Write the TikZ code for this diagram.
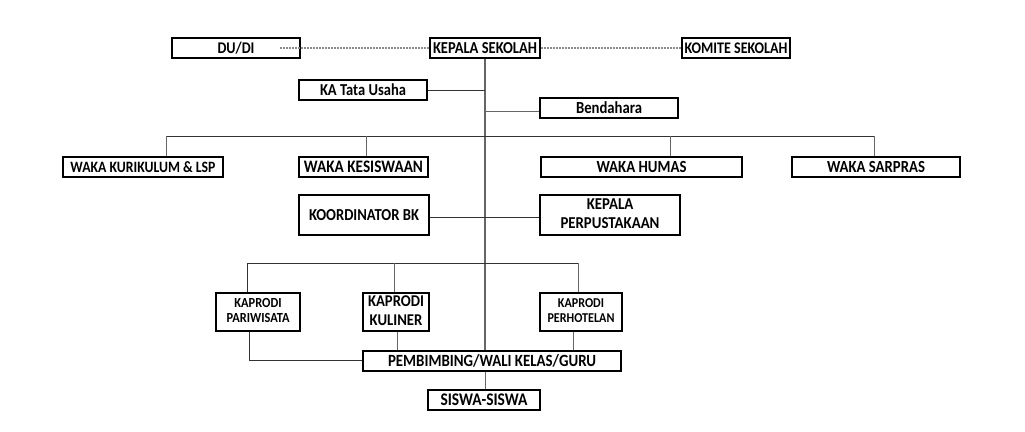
\documentclass[tikz,border=0pt]{standalone}
\usepackage{fontspec}
\setmainfont{Carlito}
\usepackage{graphicx}
\newcommand{\tw}[2]{\scalebox{1}[1.15]{\resizebox{#1pt}{!}{\bfseries #2}}}
\newcommand{\twl}[3]{\scalebox{1}[1.12]{\resizebox{#1pt}{!}{\bfseries\begin{tabular}{@{}c@{}}#2\\[-1pt]#3\end{tabular}}}}
\begin{document}
\begin{tikzpicture}[x=1pt,y=-1pt,
  box/.style={draw=black,line width=1.9pt,fill=white,inner sep=0pt,minimum height=20pt,align=center},
  conn/.style={line width=0.9pt,draw=black!80},
  gconn/.style={line width=1pt,draw=black!60},
  dot/.style={line width=1.1pt,draw=black!45,dash pattern=on 2pt off 1pt}]
\useasboundingbox[fill=white] (0,0) rectangle (1025,431);
% boxes
\node[box,minimum width=128pt] (dudi) at (236,48) {\tw{37}{DU/DI}};
\node[box,minimum width=110pt] (kepsek) at (485,48) {\tw{104}{KEPALA SEKOLAH}};
\node[box,minimum width=108pt] (komite) at (736,48) {\tw{103}{KOMITE SEKOLAH}};
\coordinate (dstart) at (280,48);
\draw[dot] (dstart) -- (kepsek.west);
\draw[dot] (kepsek.east) -- (komite.west);
% trunk
\coordinate (tr1) at (485,90);
\coordinate (tr2) at (485,111);
\coordinate (tr4) at (485,217);
\node[box,minimum width=128pt] (tu) at (363,90) {\tw{86}{KA Tata Usaha}};
\node[box,minimum width=138pt] (bend) at (609,108) {\tw{66}{Bendahara}};
\node[box,minimum width=160pt] (wk1) at (143,167) {\tw{145}{WAKA KURIKULUM \& LSP}};
\node[box,minimum width=129pt] (wk2) at (363.5,167) {\tw{119}{WAKA KESISWAAN}};
\node[box,minimum width=201pt] (wk3) at (641.5,167) {\tw{90}{WAKA HUMAS}};
\node[box,minimum width=168pt] (wk4) at (876,167) {\tw{98}{WAKA SARPRAS}};
\node[box,minimum width=130pt,minimum height=40pt] (bk) at (364,215) {\tw{110}{KOORDINATOR BK}};
\node[box,minimum width=140pt,minimum height=40pt] (perpus) at (610,215) {\twl{99}{KEPALA}{PERPUSTAKAAN}};
\node[box,minimum width=84pt,minimum height=38pt] (kp1) at (258,312) {\twl{63}{KAPRODI}{PARIWISATA}};
\node[box,minimum width=66pt,minimum height=38pt] (kp2) at (396,312) {\twl{56}{KAPRODI}{KULINER}};
\node[box,minimum width=82pt,minimum height=38pt] (kp3) at (581,312) {\twl{67}{KAPRODI}{PERHOTELAN}};
\node[box,minimum width=258pt] (pemb) at (492,361) {\tw{208}{PEMBIMBING/WALI KELAS/GURU}};
\node[box,minimum width=112pt] (siswa) at (484,400) {\tw{87}{SISWA-SISWA}};
% trunk line
\draw[gconn,line width=1.2pt] (kepsek.south -| tr1) -- (tr1 |- pemb.north);
\draw[conn] (tu.east) -- (tr1);
\draw[gconn] (tr2) -- (bend.west |- tr2);
% waka bar
\coordinate (b1) at (166,136);
\coordinate (b2) at (366,136);
\coordinate (b3) at (670,136);
\coordinate (b4) at (874,136);
\draw[conn] (b1) -- (b4);
\draw[gconn] (b1) -- (b1 |- wk1.north);
\draw[gconn] (b2) -- (b2 |- wk2.north);
\draw[gconn] (b3) -- (b3 |- wk3.north);
\draw[gconn] (b4) -- (b4 |- wk4.north);
% bk - perpus
\draw[conn] (bk.east |- tr4) -- (perpus.west |- tr4);
% kaprodi bar
\coordinate (c1) at (247,263);
\coordinate (c2) at (394,263);
\coordinate (c3) at (578,263);
\draw[conn] (c1) -- (c3);
\draw[conn] (c1) -- (c1 |- kp1.north);
\draw[gconn] (c2) -- (c2 |- kp2.north);
\draw[gconn] (c3) -- (c3 |- kp3.north);
% kaprodi to pembimbing
\coordinate (k1) at (249,360);
\draw[conn] (k1 |- kp1.south) -- (k1) -- (pemb.west |- k1);
\coordinate (k2) at (397,340);
\draw[gconn] (k2 |- kp2.south) -- (k2 |- pemb.north);
\coordinate (k3) at (573,340);
\draw[gconn] (k3 |- kp3.south) -- (k3 |- pemb.north);
\draw[gconn] (siswa.north -| tr1) -- (tr1 |- pemb.south);
\end{tikzpicture}
\end{document}
